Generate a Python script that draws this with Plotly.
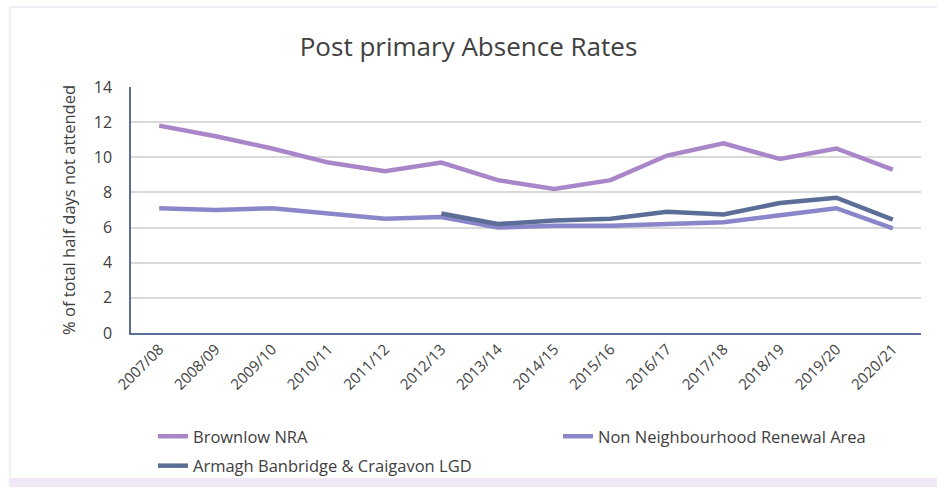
import plotly.graph_objects as go

years = ["2007/08", "2008/09", "2009/10", "2010/11", "2011/12", "2012/13", "2013/14",
         "2014/15", "2015/16", "2016/17", "2017/18", "2018/19", "2019/20", "2020/21"]
brownlow = [11.8, 11.2, 10.5, 9.7, 9.2, 9.7, 8.7, 8.2, 8.7, 10.1, 10.8, 9.9, 10.5, 9.3]
non_nra = [7.1, 7.0, 7.1, 6.8, 6.5, 6.6, 6.0, 6.1, 6.1, 6.2, 6.3, 6.7, 7.1, 5.95]
abc_lgd = [None, None, None, None, None, 6.8, 6.2, 6.4, 6.5, 6.9, 6.75, 7.4, 7.7, 6.45]

FONT = "Open Sans, sans-serif"
TXT = "#404040"

L, R, T, B = 131, 16, 87, 157
W, H = 937, 490
PW, PH = W - L - R, H - T - B


def px_x(x):
    return (x - L) / PW


def px_y(y):
    return (H - B - y) / PH


fig = go.Figure()
fig.add_trace(go.Scatter(x=years, y=brownlow, name="Brownlow NRA", mode="lines",
                         legend="legend", legendgroup="a",
                         line=dict(color="#A985C9", width=4.5)))
fig.add_trace(go.Scatter(x=years, y=non_nra, name="Non Neighbourhood Renewal Area", mode="lines",
                         legend="legend2", legendgroup="b",
                         line=dict(color="#8B86C9", width=4.5)))
fig.add_trace(go.Scatter(x=years, y=abc_lgd, name="Armagh Banbridge & Craigavon LGD", mode="lines",
                         legend="legend", legendgroup="c",
                         line=dict(color="#5B6E97", width=4.5)))

legend_common = dict(orientation="v", yanchor="top", xanchor="left",
                     font=dict(size=16.5, color=TXT), bgcolor="rgba(0,0,0,0)",
                     tracegroupgap=5, traceorder="grouped")

fig.update_layout(
    width=W, height=H,
    paper_bgcolor="white", plot_bgcolor="white",
    font=dict(family=FONT, color=TXT, size=15),
    title=dict(text="Post primary Absence Rates", x=0.5, xanchor="center", y=1 - 47 / H, yanchor="middle",
               font=dict(size=26, color=TXT, family=FONT)),
    margin=dict(l=L, r=R, t=T, b=B, autoexpand=False),
    showlegend=True,
    legend=dict(x=px_x(153), y=px_y(419), **legend_common),
    legend2=dict(x=px_x(558), y=px_y(419), **legend_common),
    shapes=[
        dict(type="rect", xref="paper", yref="paper", x0=px_x(10), x1=px_x(945), y0=px_y(486), y1=px_y(7),
             line=dict(color="#F1EEF5", width=2), layer="below"),
        dict(type="rect", xref="paper", yref="paper", x0=px_x(10), x1=px_x(945), y0=px_y(487), y1=px_y(478),
             line=dict(width=0), fillcolor="#F0E8F6", layer="below"),
    ],
)
fig.update_xaxes(type="category", range=[-0.5, 13.5], tickangle=-45, showgrid=False, showline=True,
                 linecolor="#5B6E97", linewidth=1.5, ticks="", tickfont=dict(size=15, color=TXT))
fig.update_yaxes(range=[0, 14], dtick=2, showgrid=True, gridcolor="#D9D9D9", gridwidth=1.5,
                 showline=True, linecolor="#5B6E97", linewidth=1.5, zeroline=False, ticks="",
                 ticklabelstandoff=14,
                 tickfont=dict(size=16, color=TXT),
                 title=dict(text="% of total half days not attended", font=dict(size=16.5, color=TXT),
                            standoff=14))

fig.write_html("out.html", config={"displayModeBar": False},
               post_script="document.body.style.margin='0';document.body.style.overflow='hidden';")
